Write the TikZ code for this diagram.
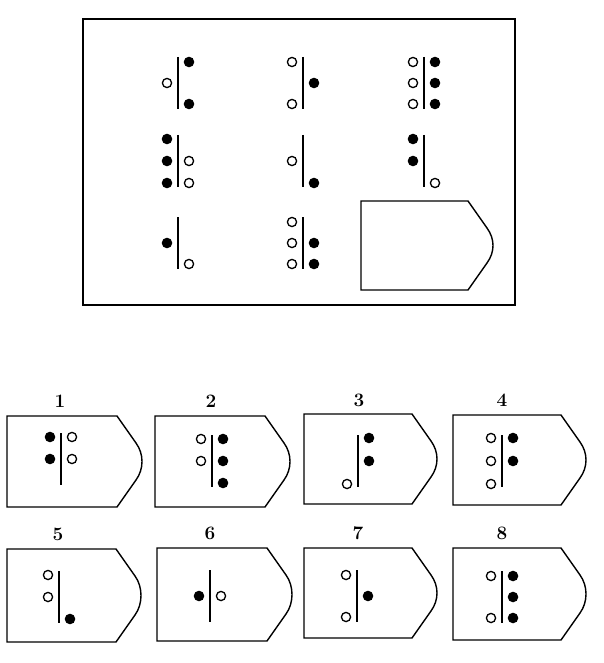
\documentclass[tikz,border=0pt]{standalone}
\usepackage{tikz}
\tikzset{
  frame/.style={line width=1.6pt},
  shield/.style={line width=1.4pt, line join=miter},
  barline/.style={line width=2.4pt},
  fdot/.style={fill=black},
  odot/.style={draw=black, line width=1.3pt, fill=white},
  numlabel/.style={font=\fontsize{19}{22}\selectfont\bfseries, inner sep=0pt}
}
% #1 x, #2 y (centre), #3 left list (top,mid,bottom), #4 right list, #5 row step
\newcommand\glyphcell[5]{%
  \draw[barline] (#1,#2-26) -- (#1,#2+26);
  \foreach \t [count=\i] in {#3} {%
    \if f\t \path[fdot] (#1-11,{#2+(\i-2)*#5}) circle (5.3pt);\fi
    \if o\t \path[odot] (#1-11,{#2+(\i-2)*#5}) circle (4.6pt);\fi
  }
  \foreach \t [count=\i] in {#4} {%
    \if f\t \path[fdot] (#1+11,{#2+(\i-2)*#5}) circle (5.3pt);\fi
    \if o\t \path[odot] (#1+11,{#2+(\i-2)*#5}) circle (4.6pt);\fi
  }%
}
% #1 left, #2 top, #3 bottom, #4 corner width
\newcommand\shieldshape[4]{%
  \draw[shield] (#1,#2) -- (#1+#4,#2) -- (#1+#4+19,#2+27)
    .. controls (#1+#4+27,#2+38) and (#1+#4+27,#3-38) .. (#1+#4+19,#3-27)
    -- (#1+#4,#3) -- (#1,#3) -- cycle;
}
\begin{document}
\begin{tikzpicture}[x=1pt,y=-1pt]
\useasboundingbox (0,0) rectangle (604,663);
\fill[white] (0,0) rectangle (604,663);
% matrix frame
\draw[frame] (83,19) rectangle (515,305);
% row 1
\glyphcell{178}{83}{n,o,n}{f,n,f}{21}
\glyphcell{303}{83}{o,n,o}{n,f,n}{21}
\glyphcell{424}{83}{o,o,o}{f,f,f}{21}
% row 2
\glyphcell{178}{161}{f,f,f}{n,o,o}{22}
\glyphcell{303}{161}{n,o,n}{n,n,f}{22}
\glyphcell{424}{161}{f,f,n}{n,n,o}{22}
% row 3
\glyphcell{178}{243}{n,f,n}{n,n,o}{21}
\glyphcell{303}{243}{o,o,o}{n,f,f}{21}
\shieldshape{361}{201}{290}{107}
% answer labels
\node[numlabel] (n1) at (60,401) {1};
\node[numlabel] (n2) at (211,401) {2};
\node[numlabel] (n3) at (359,400) {3};
\node[numlabel] (n4) at (502,400) {4};
\node[numlabel] (n5) at (58,534) {5};
\node[numlabel] (n6) at (210,533) {6};
\node[numlabel] (n7) at (358,533) {7};
\node[numlabel] (n8) at (502,533) {8};
% answer boxes
\shieldshape{7}{416}{507}{110}
\shieldshape{155}{416}{507}{110}
\shieldshape{304}{414}{504}{108}
\shieldshape{453}{415}{505}{108}
\shieldshape{7}{549}{642}{109}
\shieldshape{157}{548}{641}{110}
\shieldshape{304}{548}{638}{108}
\shieldshape{453}{548}{640}{108}
% answer glyphs
\glyphcell{61}{459}{f,f,n}{o,o,n}{22}
\glyphcell{212}{461}{o,o,n}{f,f,f}{22}
\glyphcell{358}{461}{n,n,o}{f,f,n}{23}
\glyphcell{502}{461}{o,o,o}{f,f,n}{23}
\glyphcell{59}{597}{o,o,n}{n,n,f}{22}
\glyphcell{210}{596}{n,f,n}{n,o,n}{21}
\glyphcell{357}{596}{o,n,o}{n,f,n}{21}
\glyphcell{502}{597}{o,n,o}{f,f,f}{21}
\end{tikzpicture}
\end{document}
